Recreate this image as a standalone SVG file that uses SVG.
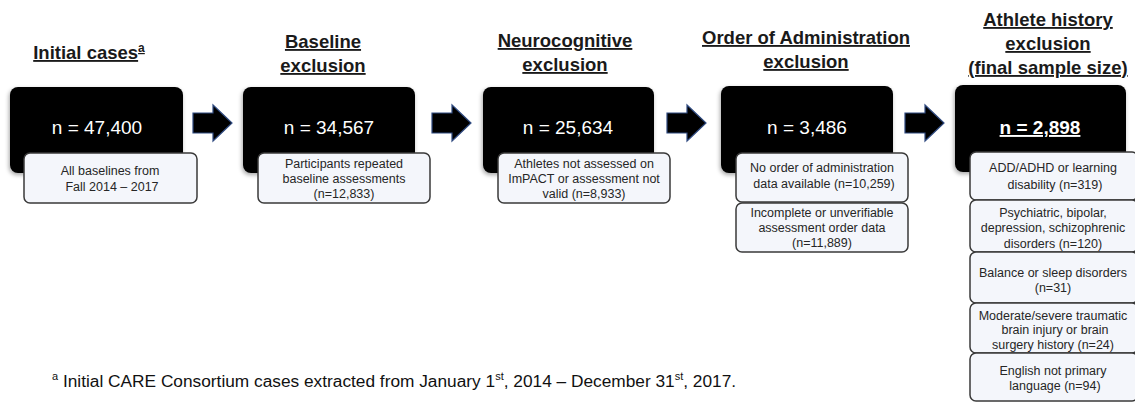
<svg xmlns="http://www.w3.org/2000/svg" width="1135" height="402" viewBox="0 0 1135 402">
<defs>
<filter id="sh" x="-10%" y="-10%" width="125%" height="130%">
<feDropShadow dx="-1" dy="2" stdDeviation="2" flood-color="#000" flood-opacity="0.35"/>
</filter>
</defs>
<style>
.title{font-family:"Liberation Sans",Arial,sans-serif;font-weight:bold;font-size:18.5px;fill:#1a1a1a;text-anchor:middle;text-decoration:underline}
.blk{fill:#000;filter:url(#sh)}
.n{font-family:"Liberation Sans",Arial,sans-serif;font-size:19px;fill:#fff;text-anchor:middle}
.wb{fill:#f4f6fb;stroke:#3a3a3a;stroke-width:1.5}
.t{font-family:"Liberation Sans",Arial,sans-serif;font-size:12.5px;fill:#262626;text-anchor:middle}
.arr{fill:#000;stroke:#2f4a80;stroke-width:1.2}
.foot{font-family:"Liberation Sans",Arial,sans-serif;font-size:17.3px;fill:#111}
</style>
<rect width="1135" height="402" fill="#fff"/>

<g id="connectors">
<path class="arr" d="M193,113 H213 V105 L232,123 L213,141 V133 H193 Z"/>
<path class="arr" d="M432,113 H452 V105 L471,123 L452,141 V133 H432 Z"/>
<path class="arr" d="M667,113 H687 V105 L706,123 L687,141 V133 H667 Z"/>
<path class="arr" d="M905,113 H925 V105 L944,123 L925,141 V133 H905 Z"/>
</g>

<g id="node-initial">
<text class="title" x="89" y="59">Initial cases<tspan font-size="12" dy="-7">a</tspan></text>
<rect class="blk" x="10" y="87" width="173" height="86" rx="8"/>
<text class="n" x="97" y="134">n = 47,400</text>
<rect class="wb" x="24" y="153" width="173" height="50" rx="6"/>
<text class="t" x="110" y="175">All baselines from</text>
<text class="t" x="112" y="191">Fall 2014 – 2017</text>
</g>

<g id="node-baseline">
<text class="title" x="323" y="48">Baseline</text>
<text class="title" x="323" y="72">exclusion</text>
<rect class="blk" x="243" y="87" width="172" height="86" rx="8"/>
<text class="n" x="329" y="134">n = 34,567</text>
<rect class="wb" x="258" y="153" width="172" height="50" rx="6"/>
<text class="t" x="344" y="168">Participants repeated</text>
<text class="t" x="344" y="183">baseline assessments</text>
<text class="t" x="344" y="198">(n=12,833)</text>
</g>

<g id="node-neuro">
<text class="title" x="565" y="47">Neurocognitive</text>
<text class="title" x="565" y="71">exclusion</text>
<rect class="blk" x="483" y="87" width="171" height="86" rx="8"/>
<text class="n" x="568" y="134">n = 25,634</text>
<rect class="wb" x="498" y="153" width="172" height="50" rx="6"/>
<text class="t" x="584" y="168">Athletes not assessed on</text>
<text class="t" x="584" y="183">ImPACT or assessment not</text>
<text class="t" x="584" y="198">valid (n=8,933)</text>
</g>

<g id="node-order">
<text class="title" x="806" y="44">Order of Administration</text>
<text class="title" x="806" y="68">exclusion</text>
<rect class="blk" x="721" y="86" width="172" height="87" rx="8"/>
<text class="n" x="807" y="134">n = 3,486</text>
<rect class="wb" x="736" y="153" width="172" height="49" rx="6"/>
<text class="t" x="822" y="172">No order of administration</text>
<text class="t" x="824" y="188">data available (n=10,259)</text>
<rect class="wb" x="736" y="203" width="172" height="49" rx="6"/>
<text class="t" x="822" y="217">Incomplete or unverifiable</text>
<text class="t" x="822" y="232">assessment order data</text>
<text class="t" x="822" y="247">(n=11,889)</text>
</g>

<g id="node-athlete">
<text class="title" x="1048" y="26">Athlete history</text>
<text class="title" x="1048" y="50">exclusion</text>
<text class="title" x="1048" y="74">(final sample size)</text>
<rect class="blk" x="955" y="85" width="171" height="87" rx="8"/>
<text class="n" x="1040" y="134" font-weight="bold" text-decoration="underline">n = 2,898</text>
<rect class="wb" x="970" y="152" width="168" height="48" rx="6"/>
<text class="t" x="1053" y="172">ADD/ADHD or learning</text>
<text class="t" x="1055" y="189">disability (n=319)</text>
<rect class="wb" x="970" y="200" width="168" height="52" rx="6"/>
<text class="t" x="1053" y="217">Psychiatric, bipolar,</text>
<text class="t" x="1053" y="232">depression, schizophrenic</text>
<text class="t" x="1053" y="248">disorders (n=120)</text>
<rect class="wb" x="970" y="252" width="168" height="51" rx="6"/>
<text class="t" x="1053" y="277">Balance or sleep disorders</text>
<text class="t" x="1053" y="292">(n=31)</text>
<rect class="wb" x="970" y="303" width="168" height="50" rx="6"/>
<text class="t" x="1053" y="320">Moderate/severe traumatic</text>
<text class="t" x="1055" y="334">brain injury or brain</text>
<text class="t" x="1053" y="349">surgery history (n=24)</text>
<rect class="wb" x="970" y="353" width="168" height="48" rx="6"/>
<text class="t" x="1053" y="375">English not primary</text>
<text class="t" x="1055" y="390">language (n=94)</text>
</g>

<g id="footnote">
<text class="foot" x="52" y="387"><tspan font-size="11" dy="-7">a</tspan><tspan dy="7"> Initial CARE Consortium cases extracted from January 1</tspan><tspan font-size="11" dy="-7">st</tspan><tspan dy="7">, 2014 – December 31</tspan><tspan font-size="11" dy="-7">st</tspan><tspan dy="7">, 2017.</tspan></text>
</g>
</svg>
